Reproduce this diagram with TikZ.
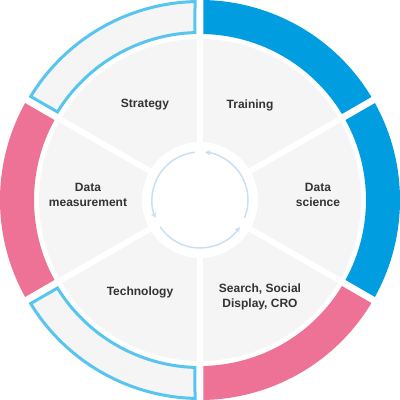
\documentclass[tikz,border=0pt]{standalone}
\usepackage{fontspec}
\setmainfont{Liberation Sans}
\usetikzlibrary{arrows.meta}
\definecolor{bluefill}{HTML}{009EE0}
\definecolor{pinkfill}{HTML}{EE7296}
\definecolor{outl}{HTML}{58C4F0}
\definecolor{segfill}{HTML}{F5F5F5}
\definecolor{arrowc}{HTML}{C8E0F2}
\definecolor{txt}{HTML}{333333}
\tikzset{
  lbl/.style={font=\bfseries\fontsize{12}{15.5}\selectfont, text=txt, align=center, inner sep=0pt},
  cyc/.style={draw=arrowc, line width=1.5pt, -{Stealth[length=5.5pt,width=5.5pt]}}
}
\begin{document}
\begin{tikzpicture}[x=1pt,y=1pt]
\useasboundingbox (-200pt,-200pt) rectangle (200pt,200pt);
% outer filled sectors
\foreach \a/\b/\c in {30/90/bluefill, -30/30/bluefill, -90/-30/pinkfill, 150/210/pinkfill}{
  \fill[\c] ({\a+asin(3.5/200)}:200pt) arc[start angle={\a+asin(3.5/200)}, end angle={\b-asin(3.5/200)}, radius=200pt]
    -- ({\b-asin(3.5/166)}:166pt) arc[start angle={\b-asin(3.5/166)}, end angle={\a+asin(3.5/166)}, radius=166pt] -- cycle;
}
% outline sectors
\foreach \a/\b in {90/150, 210/270}{
  \filldraw[fill=segfill, draw=outl, line width=3pt, line join=miter] ({\a+asin(5/198.5)}:198.5pt) arc[start angle={\a+asin(5/198.5)}, end angle={\b-asin(5/198.5)}, radius=198.5pt]
    -- ({\b-asin(5/167.5)}:167.5pt) arc[start angle={\b-asin(5/167.5)}, end angle={\a+asin(5/167.5)}, radius=167.5pt] -- cycle;
}
% inner gray segments
\foreach \a in {-90,-30,30,90,150,210}{
  \pgfmathsetmacro\b{\a+60}
  \fill[segfill] ({\a+asin(3/161)}:161pt) arc[start angle={\a+asin(3/161)}, end angle={\b-asin(3/161)}, radius=161pt]
    -- ({\b-asin(3/58)}:58pt) arc[start angle={\b-asin(3/58)}, end angle={\a+asin(3/58)}, radius=58pt] -- cycle;
}
% cycle arrows
\draw[cyc] (-22:48pt) arc[start angle=-22, end angle=84, radius=48pt];
\draw[cyc] (96:48pt) arc[start angle=96, end angle=202, radius=48pt];
\draw[cyc] (214:48pt) arc[start angle=214, end angle=326, radius=48pt];
% labels
\node[lbl] (strategy) at (-55pt,95pt) {Strategy};
\node[lbl] (training) at (50pt,95pt) {Training};
\node[lbl] (datasci) at (118pt,5pt) {Data\\science};
\node[lbl] (datameas) at (-112pt,5pt) {Data\\measurement};
\node[lbl] (tech) at (-60pt,-92pt) {Technology};
\node[lbl] (search) at (60pt,-97pt) {Search, Social\\Display, CRO};
\end{tikzpicture}
\end{document}
